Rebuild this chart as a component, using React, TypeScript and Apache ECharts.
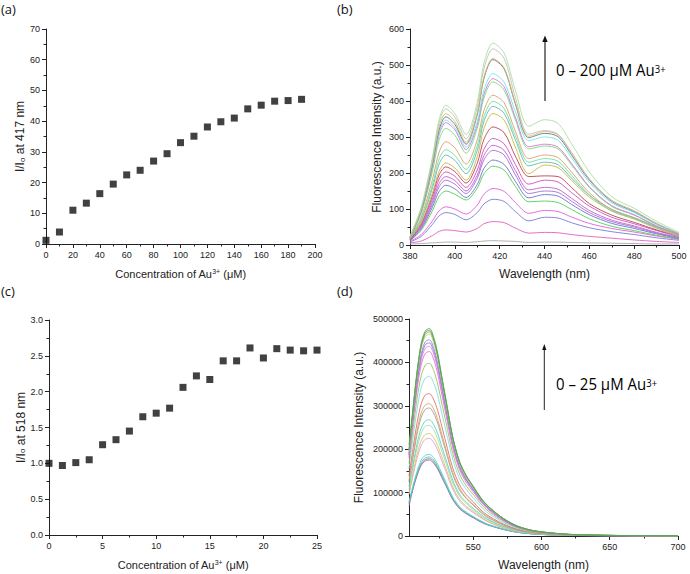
import React, { useEffect, useRef } from 'react';
import * as echarts from 'echarts';

// ---------- Panel (a) ----------
const CONC_A = [0, 10, 20, 30, 40, 50, 60, 70, 80, 90, 100, 110, 120, 130, 140, 150, 160, 170, 180, 190];
const RATIO_A = [1.2, 3.9, 11.0, 13.3, 16.4, 19.5, 22.5, 24.0, 27.0, 29.4, 33.0, 35.1, 38.1, 39.8, 41.0, 44.0, 45.2, 46.5, 46.7, 47.1];
const TICKS_A_X = { min: 0, max: 200, interval: 20 };
const TICKS_A_Y = { min: 0, max: 70, interval: 10 };

// ---------- Panel (c) ----------
const CONC_C = [0, 1.25, 2.5, 3.75, 5, 6.25, 7.5, 8.75, 10, 11.25, 12.5, 13.75, 15, 16.25, 17.5, 18.75, 20, 21.25, 22.5, 23.75, 25];
const RATIO_C = [1.0, 0.97, 1.01, 1.05, 1.26, 1.33, 1.45, 1.65, 1.70, 1.77, 2.06, 2.22, 2.17, 2.43, 2.43, 2.61, 2.47, 2.60, 2.58, 2.57, 2.58];

// ---------- Panel (b) spectra (0–200 µM) ----------
const WL_B = [380, 385, 390, 393, 396, 400, 405, 410, 413, 417, 422, 427, 433, 440, 446, 452, 460, 470, 480, 490, 500];
const SPEC_B = [
  [3, 4, 6, 7, 8, 8, 7, 9, 11, 12, 11, 10, 7, 8, 8, 7, 6, 5, 4, 3, 3],
  [6, 11, 26, 38, 42, 40, 36, 46, 59, 65, 62, 47, 33, 35, 34, 29, 24, 19, 14, 10, 7],
  [8, 24, 57, 81, 90, 85, 70, 90, 114, 127, 121, 93, 67, 77, 75, 62, 48, 37, 29, 20, 13],
  [10, 29, 67, 95, 106, 100, 86, 111, 141, 157, 149, 118, 88, 96, 93, 78, 60, 46, 36, 25, 16],
  [12, 41, 95, 135, 150, 141, 125, 158, 198, 219, 208, 163, 120, 122, 118, 99, 73, 52, 40, 27, 16],
  [12, 45, 105, 149, 166, 156, 132, 168, 213, 236, 224, 177, 131, 140, 136, 113, 84, 60, 46, 31, 18],
  [13, 49, 113, 162, 180, 169, 143, 185, 237, 263, 250, 195, 143, 150, 146, 122, 90, 65, 50, 33, 20],
  [14, 51, 120, 171, 190, 179, 150, 194, 249, 277, 263, 207, 153, 160, 155, 130, 96, 69, 53, 35, 21],
  [14, 55, 128, 183, 203, 191, 160, 208, 266, 296, 281, 224, 169, 180, 175, 146, 108, 77, 59, 40, 23],
  [15, 59, 137, 195, 217, 204, 172, 227, 294, 328, 312, 247, 190, 192, 190, 160, 115, 83, 63, 42, 25],
  [17, 62, 144, 205, 228, 214, 180, 245, 324, 365, 347, 272, 198, 222, 215, 180, 133, 95, 73, 49, 29],
  [17, 68, 158, 225, 250, 235, 198, 263, 344, 385, 366, 292, 220, 230, 223, 186, 138, 99, 76, 51, 30],
  [18, 72, 167, 239, 265, 249, 210, 276, 357, 399, 379, 303, 230, 240, 233, 194, 139, 94, 72, 46, 24],
  [19, 77, 181, 258, 287, 270, 225, 292, 374, 416, 395, 316, 240, 250, 243, 203, 145, 98, 75, 48, 25],
  [20, 87, 204, 292, 324, 305, 255, 324, 409, 453, 430, 348, 267, 275, 267, 223, 160, 107, 83, 52, 28],
  [20, 92, 214, 306, 340, 320, 265, 334, 419, 462, 439, 355, 273, 280, 272, 227, 162, 109, 84, 53, 28],
  [21, 94, 219, 312, 347, 326, 272, 343, 431, 476, 452, 371, 290, 300, 291, 243, 174, 117, 90, 57, 30],
  [22, 96, 224, 320, 356, 335, 280, 362, 463, 515, 489, 392, 298, 310, 301, 251, 180, 121, 93, 59, 31],
  [22, 99, 230, 329, 365, 343, 285, 367, 467, 518, 492, 396, 302, 315, 306, 255, 183, 123, 95, 60, 32],
  [23, 102, 238, 340, 378, 355, 295, 383, 490, 545, 518, 410, 308, 318, 308, 258, 184, 124, 95, 60, 32],
  [24, 105, 244, 349, 388, 365, 307, 396, 505, 561, 533, 430, 330, 348, 338, 282, 203, 134, 102, 66, 35],
];
const COLORS_B = ['#a8a8a8', '#e060c0', '#7a7ad8', '#e060d8', '#50d050', '#7070d0', '#a070d0', '#c060d0', '#d050c0', '#c04050', '#c8b840', '#60b8b8', '#70e0a0', '#d8a070', '#70e070', '#e070e0', '#70e8e8', '#707090', '#d0c060', '#c0c0c0', '#a8e0a0'];

// ---------- Panel (d) spectra (0–25 µM), values in thousands of a.u. ----------
const WL_D = [503, 506, 509, 512, 515, 518, 521, 524, 527, 530, 535, 540, 545, 550, 555, 560, 570, 580, 590, 600, 620, 650, 700];
const D_UNIT = 1000;
const SPEC_D = [
  [68, 109, 140, 163, 173, 175, 168, 154, 135, 116, 84, 63, 51, 42, 33, 26, 17, 10, 6, 3.5, 1.4, 0.5, 0.2],
  [75, 110, 142, 166, 176, 178, 171, 157, 137, 118, 85, 64, 52, 43, 34, 27, 17, 10, 5.7, 3.6, 1.4, 0.5, 0.2],
  [76, 113, 146, 169, 180, 182, 175, 160, 140, 120, 87, 66, 53, 44, 35, 27, 17, 10, 5.8, 3.6, 1.5, 0.5, 0.2],
  [79, 117, 150, 175, 186, 188, 181, 165, 145, 124, 90, 68, 55, 45, 36, 28, 18, 10, 6, 3.8, 1.5, 0.6, 0.2],
  [95, 140, 180, 209, 223, 225, 216, 198, 173, 149, 108, 81, 65, 54, 43, 34, 21, 12, 7.2, 4.5, 1.8, 0.7, 0.2],
  [99, 146, 189, 220, 234, 236, 227, 208, 182, 156, 113, 85, 68, 57, 45, 35, 22, 13, 7.6, 4.7, 1.9, 0.7, 0.2],
  [107, 158, 204, 237, 253, 255, 245, 224, 196, 168, 122, 92, 74, 61, 48, 38, 24, 14, 8.2, 5.1, 2, 0.8, 0.3],
  [113, 166, 214, 249, 265, 268, 257, 236, 206, 177, 129, 96, 78, 64, 51, 40, 25, 15, 8.6, 5.4, 2.1, 0.8, 0.3],
  [124, 183, 236, 274, 292, 295, 283, 260, 227, 195, 142, 106, 86, 71, 56, 44, 28, 16, 9.4, 5.9, 2.4, 0.9, 0.3],
  [128, 189, 244, 284, 302, 305, 293, 268, 235, 201, 146, 110, 88, 73, 58, 46, 29, 17, 9.8, 6.1, 2.4, 0.9, 0.3],
  [138, 203, 262, 305, 325, 328, 315, 289, 253, 216, 157, 118, 95, 79, 62, 49, 31, 18, 10.5, 6.6, 2.6, 1, 0.3],
  [155, 228, 294, 342, 364, 368, 353, 324, 283, 243, 177, 132, 107, 88, 70, 55, 35, 20, 11.8, 7.4, 2.9, 1.1, 0.4],
  [167, 247, 318, 370, 394, 398, 382, 350, 306, 263, 191, 143, 115, 96, 76, 60, 38, 22, 12.7, 8, 3.2, 1.2, 0.4],
  [179, 264, 340, 395, 421, 425, 408, 374, 327, 281, 204, 153, 123, 102, 81, 64, 40, 23, 13.6, 8.5, 3.4, 1.3, 0.4],
  [184, 271, 350, 406, 433, 437, 420, 385, 337, 288, 210, 157, 127, 105, 83, 66, 42, 24, 14, 8.7, 3.5, 1.3, 0.4],
  [187, 276, 356, 414, 441, 445, 427, 392, 343, 294, 214, 160, 129, 107, 85, 67, 42, 24, 14.2, 8.9, 3.6, 1.3, 0.4],
  [190, 280, 362, 420, 448, 452, 434, 398, 348, 298, 217, 163, 131, 109, 86, 68, 43, 25, 14.5, 9, 3.6, 1.4, 0.5],
  [195, 288, 372, 433, 460, 465, 446, 409, 358, 307, 223, 167, 135, 112, 88, 70, 44, 26, 14.9, 9.3, 3.7, 1.4, 0.5],
  [197, 291, 376, 437, 465, 470, 451, 414, 362, 310, 226, 169, 136, 113, 89, 71, 45, 26, 15, 9.4, 3.8, 1.4, 0.5],
  [199, 294, 379, 441, 469, 474, 455, 417, 365, 313, 228, 171, 138, 114, 90, 71, 45, 26, 15.2, 9.5, 3.8, 1.4, 0.5],
  [210, 296, 382, 445, 473, 478, 459, 421, 368, 316, 229, 172, 139, 115, 91, 72, 45, 26, 15.3, 9.6, 3.8, 1.4, 0.5],
];
const COLORS_D = ['#c060c0', '#7090a0', '#60c0a0', '#50d0d0', '#e0a0e0', '#e0c060', '#a0e0a0', '#60d0c0', '#a0a0a0', '#e0a060', '#e07070', '#80e0e0', '#a0c060', '#e070e0', '#f080c0', '#8080e0', '#a080e0', '#a0e0a0', '#c0a040', '#609060', '#50b050'];
const D_LABELS = [550, 600, 650, 700];
const D_MINOR = [525, 575, 625, 675];

const AX = '#222';
const FONT = 'Liberation Sans, Arial, sans-serif';

function nameStyle(size: number) {
  return {
    fontFamily: FONT,
    fontSize: size,
    color: AX,
    rich: {
      t: { fontFamily: FONT, fontSize: size, color: AX },
      sup: { fontFamily: FONT, fontSize: Math.round(size * 0.62), color: AX, verticalAlign: 'top' },
      sub: { fontFamily: FONT, fontSize: Math.round(size * 0.7), color: AX, verticalAlign: 'bottom' },
    },
  };
}

function baseAxis(extra: any) {
  return {
    type: 'value',
    axisLine: { show: true, onZero: false, lineStyle: { color: AX, width: 1 } },
    axisTick: { show: true, inside: false, length: 4, lineStyle: { color: AX, width: 1 } },
    minorTick: { show: true, splitNumber: 2, length: 2.5, lineStyle: { color: AX, width: 1 } },
    splitLine: { show: false },
    minorSplitLine: { show: false },
    axisLabel: { color: AX, fontSize: 9, fontFamily: FONT, margin: 6, formatter: (v: number) => String(v) },
    ...extra,
  };
}

export default function App() {
  const ref = useRef<HTMLDivElement>(null);
  useEffect(() => {
    if (!ref.current) return;
    const chart = echarts.init(ref.current, undefined, { renderer: 'svg' });

    const seriesB = SPEC_B.map((vals, k) => ({
      type: 'line',
      xAxisIndex: 1,
      yAxisIndex: 1,
      showSymbol: false,
      smooth: 0.3,
      lineStyle: { width: 1, color: COLORS_B[k], opacity: 0.9 },
      data: WL_B.map((w, i) => [w, vals[i]]),
      z: 2,
    }));
    const seriesD = SPEC_D.map((vals, k) => ({
      type: 'line',
      xAxisIndex: 3,
      yAxisIndex: 3,
      showSymbol: false,
      smooth: 0.3,
      lineStyle: { width: 1, color: COLORS_D[k], opacity: 0.9 },
      data: WL_D.map((w, i) => [w, vals[i] * D_UNIT]),
      z: 2,
    }));

    const supRich = {
      n: { fontFamily: 'Open Sans', fontSize: 15, color: '#111', lineHeight: 17 },
      s: { fontFamily: 'Open Sans', fontSize: 9.5, color: '#111', verticalAlign: 'top', lineHeight: 10, padding: [2, 0, 0, 0] },
    };

    const option: any = {
      animation: false,
      backgroundColor: '#fff',
      textStyle: { fontFamily: FONT },
      grid: [
        { left: 46, top: 29, width: 269, height: 215 },
        { left: 410, top: 29, width: 269, height: 216 },
        { left: 49, top: 320, width: 268, height: 215 },
        { left: 409, top: 319, width: 269, height: 217 },
      ],
      xAxis: [
        baseAxis({
          gridIndex: 0, ...TICKS_A_X,
          name: '{t|Concentration of Au}{sup|3+}{t| (μM)}',
          nameLocation: 'middle', nameGap: 24, nameTextStyle: nameStyle(11),
        }),
        baseAxis({
          gridIndex: 1, min: 380, max: 500, interval: 20,
          name: 'Wavelength (nm)',
          nameLocation: 'middle', nameGap: 23, nameTextStyle: nameStyle(12),
        }),
        baseAxis({
          gridIndex: 2, min: 0, max: 25, interval: 5,
          name: '{t|Concentration of Au}{sup|3+}{t| (μM)}',
          nameLocation: 'middle', nameGap: 24, nameTextStyle: nameStyle(11),
        }),
        baseAxis({
          gridIndex: 3, min: 503, max: 700,
          minorTick: { show: false },
          axisTick: { show: true, length: 4, lineStyle: { color: AX }, customValues: D_LABELS },
          axisLabel: { color: AX, fontSize: 9, fontFamily: FONT, margin: 6, customValues: D_LABELS, formatter: (v: number) => String(v) },
          name: 'Wavelength (nm)',
          nameLocation: 'middle', nameGap: 23, nameTextStyle: nameStyle(12),
        }),
        baseAxis({
          gridIndex: 3, min: 503, max: 700, position: 'bottom',
          axisLine: { show: false },
          minorTick: { show: false },
          axisTick: { show: true, length: 2.5, lineStyle: { color: AX }, customValues: D_MINOR },
          axisLabel: { show: false },
        }),
      ],
      yAxis: [
        baseAxis({
          gridIndex: 0, ...TICKS_A_Y,
          name: '{t|I/I}{sub|o}{t| at 417 nm}',
          nameLocation: 'middle', nameGap: 20, nameTextStyle: nameStyle(12),
        }),
        baseAxis({
          gridIndex: 1, min: 0, max: 600, interval: 100,
          name: 'Fluorescence Intensity (a.u.)',
          nameLocation: 'middle', nameGap: 27, nameTextStyle: nameStyle(12),
        }),
        baseAxis({
          gridIndex: 2, min: 0, max: 3, interval: 0.5,
          axisLabel: { color: AX, fontSize: 9, fontFamily: FONT, margin: 6, formatter: (v: number) => v.toFixed(1) },
          name: '{t|I/I}{sub|o}{t| at 518 nm}',
          nameLocation: 'middle', nameGap: 22, nameTextStyle: nameStyle(12),
        }),
        baseAxis({
          gridIndex: 3, min: 0, max: 500000, interval: 100000,
          name: 'Fluorescence Intensity (a.u.)',
          nameLocation: 'middle', nameGap: 44, nameTextStyle: nameStyle(12),
        }),
      ],
      series: [
        {
          type: 'scatter', xAxisIndex: 0, yAxisIndex: 0,
          symbol: 'rect', symbolSize: 7,
          itemStyle: { color: '#111' },
          data: CONC_A.map((c, i) => [c, RATIO_A[i]]),
          z: 3,
        },
        ...seriesB,
        {
          type: 'scatter', xAxisIndex: 2, yAxisIndex: 2,
          symbol: 'rect', symbolSize: 7,
          itemStyle: { color: '#111' },
          data: CONC_C.map((c, i) => [c, RATIO_C[i]]),
          z: 3,
        },
        ...seriesD,
      ],
      graphic: [
        { type: 'text', x: 1, y: 2, style: { text: '(a)', fontFamily: 'Open Sans', fontSize: 13, fill: '#111' } },
        { type: 'text', x: 337, y: 2, style: { text: '(b)', fontFamily: 'Open Sans', fontSize: 13, fill: '#111' } },
        { type: 'text', x: 1, y: 284, style: { text: '(c)', fontFamily: 'Open Sans', fontSize: 13, fill: '#111' } },
        { type: 'text', x: 337, y: 284, style: { text: '(d)', fontFamily: 'Open Sans', fontSize: 13, fill: '#111' } },
        { type: 'line', shape: { x1: 545, y1: 101, x2: 545, y2: 40 }, style: { stroke: '#7a7a7a', lineWidth: 2 } },
        { type: 'polygon', shape: { points: [[542.3, 42], [547.7, 42], [545, 35.5]] }, style: { fill: '#111' } },
        { type: 'text', x: 556, y: 70, scaleY: 1.12, style: { text: '{n|0 – 200 μM Au}{s|3+}', rich: supRich, verticalAlign: 'middle' } },
        { type: 'line', shape: { x1: 544.3, y1: 410, x2: 544.3, y2: 349 }, style: { stroke: '#222', lineWidth: 1 } },
        { type: 'polygon', shape: { points: [[542.2, 350], [546.4, 350], [544.3, 344]] }, style: { fill: '#111' } },
        { type: 'text', x: 556, y: 384, scaleY: 1.12, style: { text: '{n|0 – 25 μM Au}{s|3+}', rich: supRich, verticalAlign: 'middle' } },
      ],
    };
    chart.setOption(option);
    return () => chart.dispose();
  }, []);
  return <div ref={ref} style={{ position: 'absolute', left: 0, top: 0, width: 690, height: 574, background: '#fff' }} />;
}
